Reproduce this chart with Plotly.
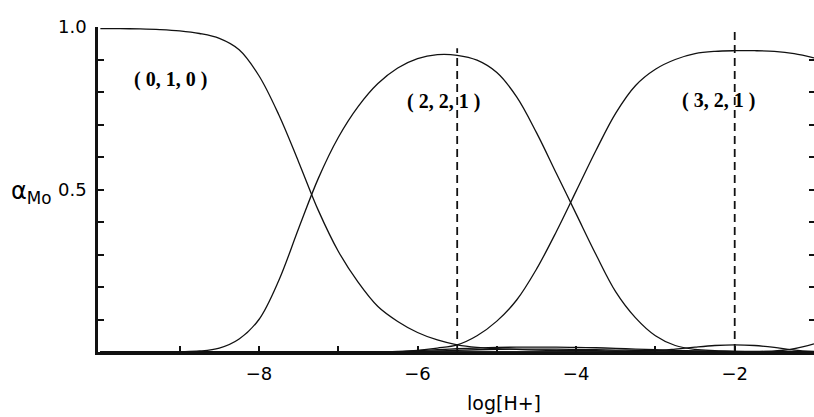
# Molybdenum species distribution vs log[H+]

import plotly.graph_objects as go

# %%
# data
log_h = [-10.0, -9.75, -9.5, -9.25, -9.0, -8.75, -8.5, -8.25, -8.0, -7.75,
         -7.5, -7.25, -7.0, -6.75, -6.5, -6.25, -6.0, -5.75, -5.5, -5.25,
         -5.0, -4.75, -4.5, -4.25, -4.0, -3.75, -3.5, -3.25, -3.0, -2.75,
         -2.5, -2.25, -2.0, -1.75, -1.5, -1.25, -1.0]

alpha_010 = [0.995, 0.995, 0.994, 0.992, 0.988, 0.98, 0.965, 0.93, 0.85, 0.73,
             0.585, 0.435, 0.31, 0.215, 0.14, 0.094, 0.06, 0.037, 0.022, 0.014,
             0.01, 0.008, 0.006, 0.005, 0.004, 0.004, 0.003, 0.003, 0.003, 0.002,
             0.002, 0.002, 0.002, 0.002, 0.001, 0.001, 0.001]

alpha_221 = [0.0, 0.0, 0.0, 0.0, 0.001, 0.003, 0.012, 0.04, 0.1, 0.22,
             0.38, 0.535, 0.66, 0.755, 0.826, 0.874, 0.903, 0.915, 0.913, 0.898,
             0.86, 0.785, 0.675, 0.55, 0.425, 0.30, 0.185, 0.105, 0.05, 0.02,
             0.008, 0.004, 0.002, 0.001, 0.001, 0.0, 0.0]

alpha_321 = [0.0, 0.0, 0.0, 0.0, 0.0, 0.0, 0.0, 0.0, 0.0, 0.0,
             0.0, 0.0, 0.0, 0.0, 0.001, 0.002, 0.005, 0.012, 0.022, 0.05,
             0.095, 0.16, 0.255, 0.37, 0.495, 0.62, 0.735, 0.82, 0.87, 0.90,
             0.918, 0.925, 0.927, 0.927, 0.925, 0.918, 0.905]

# minor species crowding the baseline
alpha_minor_1 = [0.0, 0.0, 0.0, 0.0, 0.0, 0.0, 0.0, 0.0, 0.0, 0.0,
                 0.0, 0.0, 0.0, 0.0, 0.0, 0.0, 0.004, 0.007, 0.01, 0.012,
                 0.014, 0.015, 0.015, 0.015, 0.014, 0.013, 0.011, 0.009, 0.007, 0.005,
                 0.003, 0.002, 0.001, 0.0, 0.0, 0.0, 0.0]

alpha_minor_2 = [0.0, 0.0, 0.0, 0.0, 0.0, 0.0, 0.0, 0.0, 0.0, 0.0,
                 0.0, 0.0, 0.0, 0.0, 0.0, 0.0, 0.0, 0.0, 0.0, 0.0,
                 0.0, 0.0, 0.0, 0.0, 0.0, 0.0, 0.001, 0.002, 0.004, 0.009,
                 0.015, 0.02, 0.022, 0.02, 0.014, 0.006, 0.002]

alpha_minor_3 = [0.0, 0.0, 0.0, 0.0, 0.0, 0.0, 0.0, 0.0, 0.0, 0.0,
                 0.0, 0.0, 0.0, 0.0, 0.0, 0.0, 0.0, 0.0, 0.0, 0.0,
                 0.0, 0.0, 0.0, 0.0, 0.0, 0.0, 0.0, 0.0, 0.0, 0.0,
                 0.0, 0.0, 0.0, 0.001, 0.003, 0.01, 0.025]

alpha_minor_4 = [0.0, 0.0, 0.0, 0.0, 0.0, 0.0, 0.0, 0.0, 0.0, 0.0,
                 0.0, 0.0, 0.0, 0.0, 0.0, 0.0, 0.001, 0.003, 0.005, 0.007,
                 0.008, 0.009, 0.009, 0.009, 0.008, 0.007, 0.006, 0.005, 0.004, 0.003,
                 0.002, 0.001, 0.001, 0.0, 0.0, 0.0, 0.0]

# dashed markers at the maxima of (2,2,1) and (3,2,1)
peak_x = [-5.5, -2.0]
peak_top = [0.935, 0.985]

species_labels = ["<b>( 0, 1, 0 )</b>", "<b>( 2, 2, 1 )</b>", "<b>( 3, 2, 1 )</b>"]

# %%
fig = go.Figure()

curve_style = dict(color="#111111", width=1.3, shape="spline", smoothing=1.0)
for series in [alpha_minor_1, alpha_minor_2, alpha_minor_3, alpha_minor_4,
               alpha_010, alpha_221, alpha_321]:
    fig.add_trace(go.Scatter(x=log_h, y=series, mode="lines", line=curve_style,
                             showlegend=False, hoverinfo="skip"))

for px_, top in zip(peak_x, peak_top):
    fig.add_trace(go.Scatter(x=[px_, px_], y=[0, top], mode="lines",
                             line=dict(color="#111111", width=1.8, dash="8px,5px"),
                             showlegend=False, hoverinfo="skip"))

# right-hand tick marks only (axis line falls off the page)
fig.add_trace(go.Scatter(x=[None], y=[None], yaxis="y2", showlegend=False,
                         hoverinfo="skip"))

label_pos = [(-9.12, 0.84), (-5.67, 0.772), (-2.21, 0.775)]
for text, (lx, ly) in zip(species_labels, label_pos):
    fig.add_annotation(x=lx, y=ly, text=text, showarrow=False,
                       font=dict(family="Liberation Serif", size=20, color="#000000"),
                       xanchor="center", yanchor="middle")

# axis titles placed like the original (x title is off-centre)
fig.add_annotation(xref="x domain", yref="y domain",
                   x=(504 - 98) / 716, y=-(403 - 352) / 325,
                   text="log[H+]", showarrow=False,
                   font=dict(family="DejaVu Sans", size=19, color="#000000"),
                   xanchor="center", yanchor="middle")
fig.add_annotation(xref="x domain", yref="y domain",
                   x=-(98 - 31) / 716, y=(352 - 192) / 325,
                   text="α<sub>Mo</sub>", showarrow=False,
                   font=dict(family="DejaVu Sans", size=24, color="#000000"),
                   xanchor="center", yanchor="middle")

fig.update_xaxes(
    range=[-10.03, -1.0],
    tickvals=[-8, -6, -4, -2],
    ticktext=["\u22128", "\u22126", "\u22124", "\u22122"],
    ticks="inside", ticklen=6, tickwidth=2, tickcolor="#111111",
    minor=dict(tickvals=[-9, -7, -5, -3], ticks="inside", ticklen=6,
               tickwidth=2, tickcolor="#111111"),
    showline=True, linecolor="#111111", linewidth=3,
    showgrid=False, zeroline=False,
    tickfont=dict(family="DejaVu Sans", size=18, color="#000000"),
    ticklabelstandoff=3,
)
fig.update_yaxes(
    range=[0, 1.0],
    tickvals=[0.5, 1.0],
    ticktext=["0.5", "1.0"],
    ticks="inside", ticklen=6, tickwidth=2, tickcolor="#111111",
    minor=dict(tickvals=[0.1, 0.2, 0.3, 0.4, 0.6, 0.7, 0.8, 0.9], ticks="inside",
               ticklen=6, tickwidth=2, tickcolor="#111111"),
    showline=True, linecolor="#111111", linewidth=2.5,
    showgrid=False, zeroline=False,
    tickfont=dict(family="DejaVu Sans", size=18, color="#000000"),
    ticklabelstandoff=5,
)

fig.update_layout(
    width=814, height=417,
    margin=dict(l=98, r=0, t=27, b=65),
    paper_bgcolor="white", plot_bgcolor="white",
    yaxis2=dict(overlaying="y", side="right", range=[0, 1.0],
                tickvals=[0.1, 0.2, 0.3, 0.4, 0.5, 0.6, 0.7, 0.8, 0.9],
                ticks="inside", ticklen=5, tickwidth=2, tickcolor="#111111",
                showticklabels=False, showgrid=False, zeroline=False, showline=False),
)

# drop the browser's default body margin so the figure sits at the page corner
fig.write_html("out.html", config={"displayModeBar": False},
               post_script="document.body.style.margin='0px';")
